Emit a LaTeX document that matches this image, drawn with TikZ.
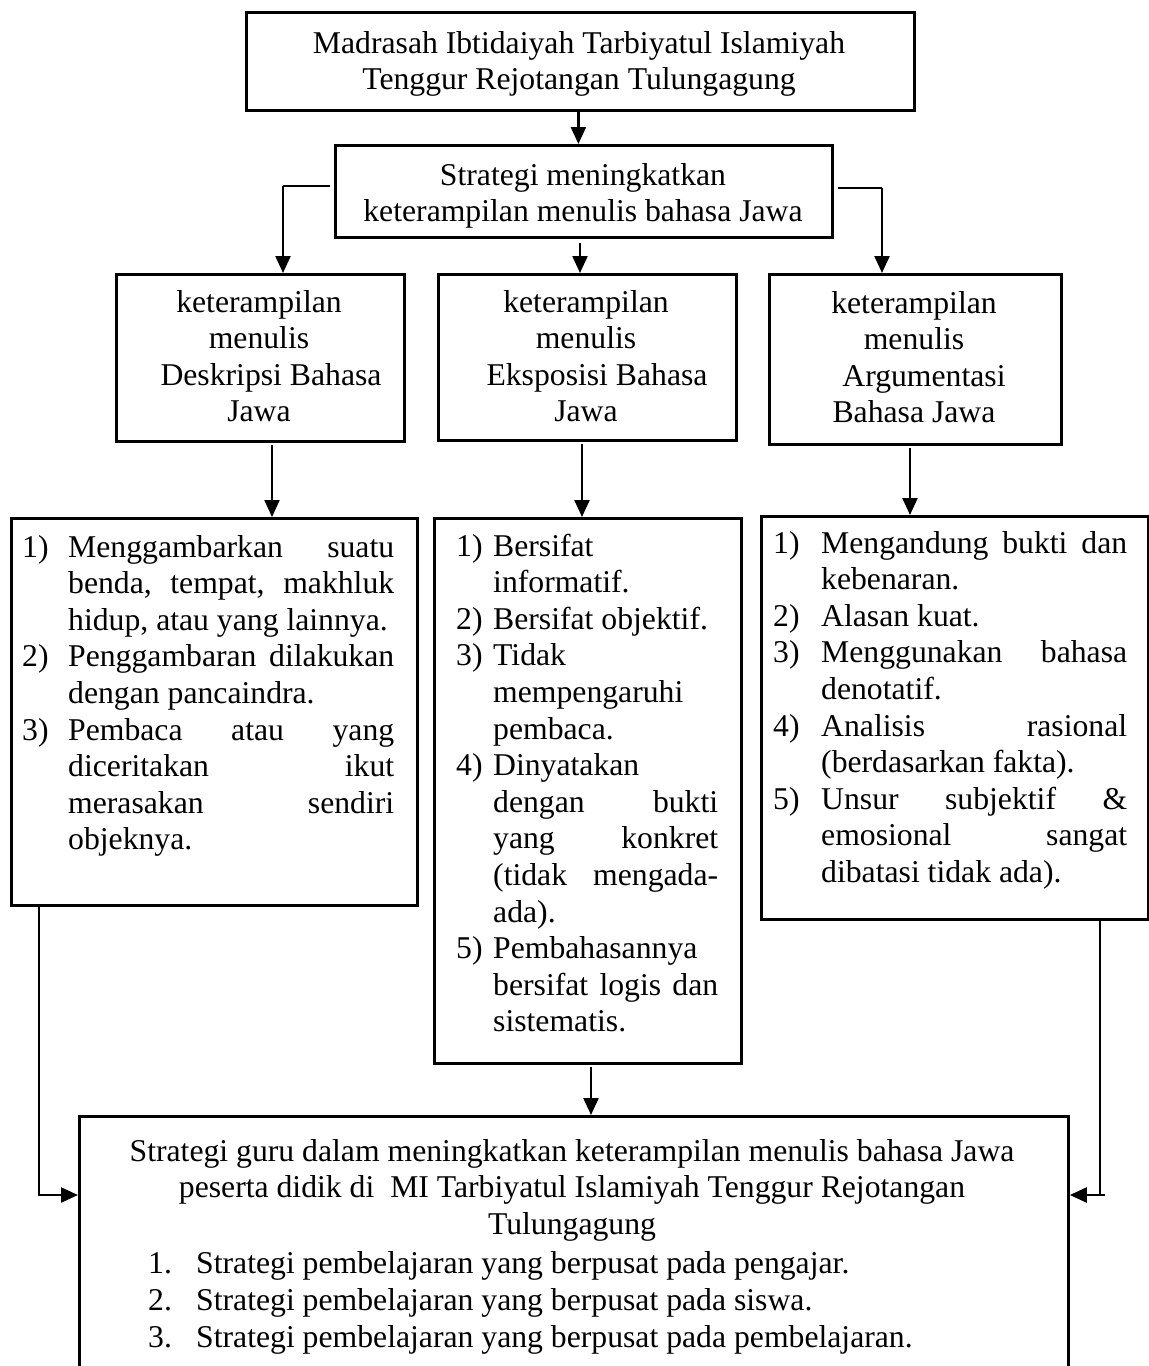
\documentclass[tikz,border=0pt]{standalone}
\usepackage{fontspec}
\setmainfont{Liberation Serif}
\usetikzlibrary{arrows.meta}
\newcommand\FS{\fontsize{31.7}{36.6}\selectfont}
\newlength\itind
\newcommand\ItJ[2]{\hbox to\hsize{\hbox to\itind{#1\hfil}#2}}
\newcommand\ItL[2]{\hbox to\hsize{\hbox to\itind{#1\hfil}#2\hfil}}
\newcommand\CoJ[1]{\hbox to\hsize{\hskip\itind #1}}
\newcommand\CoL[1]{\hbox to\hsize{\hskip\itind #1\hfil}}
\tikzset{
  box/.style={draw, line width=2.8pt, inner sep=0pt, anchor=north west},
  txt/.style={inner sep=0pt, anchor=base},
  lst/.style={inner sep=0pt, anchor=base west},
  arr/.style={line width=2.3pt, -{Triangle[width=15pt,length=17pt]}},
  ln/.style={line width=2.3pt},
  thinln/.style={line width=1.4pt},
}
\begin{document}
\begin{tikzpicture}[x=1pt, y=-1pt, font=\FS]
\useasboundingbox (0,0) rectangle (1149,1366);
\fill[white] (0,0) rectangle (1149,1366);

% boxes
\node[box, minimum width=668pt, minimum height=98pt] (b1) at (245,11) {};
\node[box, minimum width=497pt, minimum height=92pt] (b2) at (334,144) {};
\node[box, minimum width=288pt, minimum height=167pt] (b3) at (115,273) {};
\node[box, minimum width=298pt, minimum height=166pt] (b4) at (437,273) {};
\node[box, minimum width=292pt, minimum height=170pt] (b5) at (768,273) {};
\node[box, minimum width=406pt, minimum height=387pt] (l1) at (10,517) {};
\node[box, minimum width=307pt, minimum height=545pt] (l2) at (433,517) {};
\node[box, minimum width=387pt, minimum height=403pt] (l3) at (760,515) {};
\node[box, minimum width=989pt, minimum height=270pt] (bot) at (78,1115) {};

% texts
\node[txt] (t1) at (579,53) {\parbox[t]{660pt}{\centering Madrasah Ibtidaiyah Tarbiyatul Islamiyah\\Tenggur Rejotangan Tulungagung}};
\node[txt] (t2) at (583,185) {\parbox[t]{490pt}{\centering Strategi meningkatkan\\keterampilan menulis bahasa Jawa}};
\node[txt] (t3) at (259,312) {\parbox[t]{280pt}{\centering keterampilan\\menulis\\ \hspace*{24pt}Deskripsi Bahasa\\Jawa}};
\node[txt] (t4) at (586,312) {\parbox[t]{290pt}{\centering keterampilan\\menulis\\ \hspace*{22pt}Eksposisi Bahasa\\Jawa}};
\node[txt] (t5) at (914,313) {\parbox[t]{285pt}{\centering keterampilan\\menulis\\ \hspace*{20pt}Argumentasi\\Bahasa Jawa}};

\node[lst] (x1) at (22,557) {\vtop{\FS\hsize=372pt\itind=46pt\relax
  \ItJ{1)}{Menggambarkan suatu}
  \CoJ{benda, tempat, makhluk}
  \CoL{hidup, atau yang lainnya.}
  \ItJ{2)}{Penggambaran dilakukan}
  \CoL{dengan pancaindra.}
  \ItJ{3)}{Pembaca atau yang}
  \CoJ{diceritakan ikut}
  \CoJ{merasakan sendiri}
  \CoL{objeknya.}}};

\node[lst] (x2) at (456,556) {\vtop{\FS\hsize=262pt\itind=37pt\relax
  \ItL{1)}{Bersifat}
  \CoL{informatif.}
  \ItL{2)}{Bersifat objektif.}
  \ItL{3)}{Tidak}
  \CoL{mempengaruhi}
  \CoL{pembaca.}
  \ItL{4)}{Dinyatakan}
  \CoJ{dengan bukti}
  \CoJ{yang konkret}
  \CoJ{(tidak mengada-}
  \CoL{ada).}
  \ItL{5)}{Pembahasannya}
  \CoJ{bersifat logis dan}
  \CoL{sistematis.}}};

\node[lst] (x3) at (773,553) {\vtop{\FS\hsize=354pt\itind=48pt\relax
  \ItJ{1)}{Mengandung bukti dan}
  \CoL{kebenaran.}
  \ItL{2)}{Alasan kuat.}
  \ItJ{3)}{Menggunakan bahasa}
  \CoL{denotatif.}
  \ItJ{4)}{Analisis rasional}
  \CoL{(berdasarkan fakta).}
  \ItJ{5)}{Unsur subjektif \&}
  \CoJ{emosional sangat}
  \CoL{dibatasi tidak ada).}}};

\node[txt] (bt) at (572,1161) {\parbox[t]{980pt}{\centering Strategi guru dalam meningkatkan keterampilan menulis bahasa Jawa\\peserta didik di\ \ MI Tarbiyatul Islamiyah Tenggur Rejotangan\\Tulungagung}};
\node[lst] (bl) at (148,1273) {\vtop{\fontsize{31.7}{37}\selectfont\hsize=850pt\itind=48pt\relax
  \ItL{1.}{Strategi pembelajaran yang berpusat pada pengajar.}
  \ItL{2.}{Strategi pembelajaran yang berpusat pada siswa.}
  \ItL{3.}{Strategi pembelajaran yang berpusat pada pembelajaran.}}};

% connectors
\draw[arr] ([xshift=-2pt]b1.south) -- ([xshift=-2pt]b1.south |- b2.north);

\coordinate (L1) at (283,186);
\draw[thinln] ([xshift=-4pt]L1 -| b2.west) -- (L1);
\draw[arr] (L1) -- (L1 |- b3.north);

\coordinate (R1) at (882,188);
\draw[thinln] ([xshift=4pt]R1 -| b2.east) -- (R1);
\draw[arr] (R1) -- (R1 |- b5.north);

\coordinate (M1) at (580,243);
\draw[arr] (M1) -- (M1 |- b4.north);

\coordinate (A3) at (272,445);
\draw[arr] (A3) -- (A3 |- l1.north);
\coordinate (A4) at (582,444);
\draw[arr] (A4) -- (A4 |- l2.north);
\coordinate (A5) at (910,448);
\draw[arr] (A5) -- (A5 |- l3.north);

\coordinate (A6) at (591,1067);
\draw[arr] (A6) -- (A6 |- bot.north);

\coordinate (P1) at (39,907);
\coordinate (P2) at (39,1195);
\draw[arr] (P1) |- (P2 -| bot.west);

\coordinate (Q1) at (1100,918);
\coordinate (Q2) at (1105,1195);
\draw[ln] (Q1) -- (Q1 |- Q2);
\draw[arr] (Q2) -- (Q2 -| bot.east);
\end{tikzpicture}
\end{document}
